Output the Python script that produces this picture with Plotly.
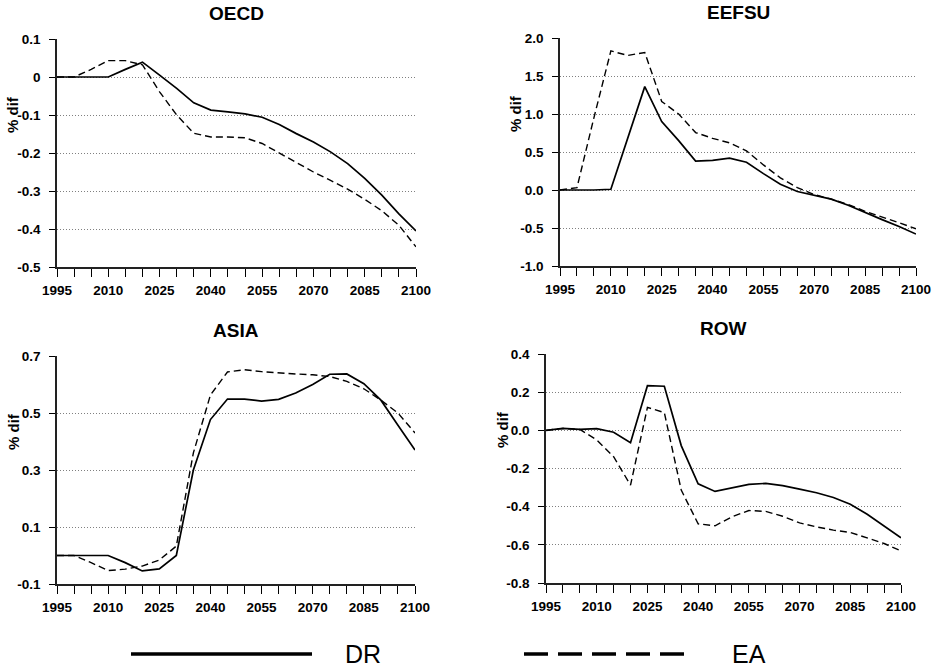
import plotly.graph_objects as go

years = list(range(1995, 2101, 5))

oecd_dr = [0, 0, 0, 0, 0.02, 0.039, 0.005, -0.03, -0.068, -0.087, -0.092, -0.097, -0.106, -0.125,
           -0.149, -0.171, -0.197, -0.228, -0.267, -0.311, -0.36, -0.405]
oecd_ea = [0, 0, 0.02, 0.043, 0.043, 0.032, -0.039, -0.1, -0.148, -0.158, -0.158, -0.16, -0.175, -0.2,
           -0.225, -0.25, -0.272, -0.295, -0.322, -0.352, -0.39, -0.447]

eefsu_dr = [0, 0, 0, 0.01, 0.68, 1.36, 0.9, 0.65, 0.38, 0.39, 0.42, 0.365, 0.215, 0.075,
            -0.02, -0.07, -0.12, -0.2, -0.3, -0.39, -0.48, -0.58]
eefsu_ea = [0, 0.03, 0.95, 1.83, 1.77, 1.81, 1.165, 1.0, 0.756, 0.68, 0.62, 0.515, 0.33, 0.16,
            0.03, -0.06, -0.12, -0.19, -0.28, -0.35, -0.43, -0.51]

asia_dr = [0, 0, 0, 0, -0.025, -0.054, -0.047, 0.0, 0.3, 0.477, 0.549, 0.549, 0.542, 0.548,
           0.57, 0.6, 0.636, 0.637, 0.603, 0.545, 0.457, 0.37]
asia_ea = [0, 0, -0.025, -0.053, -0.048, -0.037, -0.016, 0.033, 0.36, 0.563, 0.644, 0.652, 0.645,
           0.64, 0.637, 0.634, 0.628, 0.611, 0.585, 0.545, 0.5, 0.43]

row_dr = [0, 0.01, 0.005, 0.009, -0.01, -0.065, 0.234, 0.231, -0.08, -0.28, -0.32, -0.3, -0.283,
          -0.278, -0.29, -0.308, -0.327, -0.352, -0.387, -0.44, -0.502, -0.563]
row_ea = [0, 0.01, 0.005, -0.05, -0.138, -0.287, 0.12, 0.093, -0.313, -0.49, -0.5, -0.453, -0.42,
          -0.425, -0.45, -0.485, -0.506, -0.523, -0.535, -0.562, -0.593, -0.632]

regions = ["OECD", "EEFSU", "ASIA", "ROW"]
series_names = ["DR", "EA"]
y_title = "% dif"

x_tickvals = list(range(1995, 2101, 5))
x_ticktext = [str(y) if (y - 1995) % 15 == 0 else "" for y in x_tickvals]

oecd_yticks = [0.1, 0, -0.1, -0.2, -0.3, -0.4, -0.5]
oecd_ylabels = ["0.1", "0", "-0.1", "-0.2", "-0.3", "-0.4", "-0.5"]
eefsu_yticks = [2.0, 1.5, 1.0, 0.5, 0.0, -0.5, -1.0]
eefsu_ylabels = ["2.0", "1.5", "1.0", "0.5", "0.0", "-0.5", "-1.0"]
asia_yticks = [0.7, 0.5, 0.3, 0.1, -0.1]
asia_ylabels = ["0.7", "0.5", "0.3", "0.1", "-0.1"]
row_yticks = [0.4, 0.2, 0.0, -0.2, -0.4, -0.6, -0.8]
row_ylabels = ["0.4", "0.2", "0.0", "-0.2", "-0.4", "-0.6", "-0.8"]

data = {
    "OECD": (oecd_dr, oecd_ea, oecd_yticks, oecd_ylabels),
    "EEFSU": (eefsu_dr, eefsu_ea, eefsu_yticks, eefsu_ylabels),
    "ASIA": (asia_dr, asia_ea, asia_yticks, asia_ylabels),
    "ROW": (row_dr, row_ea, row_yticks, row_ylabels),
}

W, H = 936, 670
# pixel boxes (left, right, top, bottom)
boxes = {
    "OECD": (57, 416, 39, 267),
    "EEFSU": (560, 916, 38, 266),
    "ASIA": (57, 415, 356, 584),
    "ROW": (546, 901, 354, 583),
}

FONT = "Liberation Sans, Arial, sans-serif"
fig = go.Figure()
layout = dict(
    width=W, height=H, margin=dict(l=0, r=0, t=0, b=0, autoexpand=False),
    paper_bgcolor="white", plot_bgcolor="white",
    showlegend=False, font=dict(family=FONT, color="black"),
)
annotations = []
shapes = []

for i, reg in enumerate(regions):
    dr, ea, yt, yl = data[reg]
    xa = "x" if i == 0 else f"x{i+1}"
    ya = "y" if i == 0 else f"y{i+1}"
    fig.add_trace(go.Scatter(x=years, y=dr, mode="lines", name="DR", xaxis=xa, yaxis=ya,
                             line=dict(color="black", width=1.7, dash="solid")))
    fig.add_trace(go.Scatter(x=years, y=ea, mode="lines", name="EA", xaxis=xa, yaxis=ya,
                             line=dict(color="black", width=1.4, dash="7px,4px")))
    l, r, t, b = boxes[reg]
    xkey = "xaxis" if i == 0 else f"xaxis{i+1}"
    ykey = "yaxis" if i == 0 else f"yaxis{i+1}"
    layout[xkey] = dict(
        domain=[l / W, r / W], anchor=ya, range=[1995, 2100], automargin=False,
        tickmode="array", tickvals=x_tickvals, ticktext=x_ticktext,
        ticks="outside", ticklen=8, tickwidth=1.2, tickcolor="black", ticklabelstandoff=2,
        showline=True, linecolor="#222222", linewidth=1.5, showgrid=False, zeroline=False,
        tickfont=dict(family=FONT, size=13.5, color="black", weight="bold"),
    )
    layout[ykey] = dict(
        domain=[1 - b / H, 1 - t / H], anchor=xa, range=[min(yt), max(yt)], automargin=False,
        tickmode="array", tickvals=yt, ticktext=yl,
        ticks="outside", ticklen=6, tickwidth=1.2, tickcolor="black", ticklabelstandoff=6,
        showline=True, linecolor="#222222", linewidth=1.5,
        showgrid=True, gridcolor="#808080", gridwidth=1, griddash="1px,2px", zeroline=False,
        tickfont=dict(family=FONT, size=13.5, color="black", weight="bold"),
    )
    annotations.append(dict(
        text=f"<b>{reg}</b>", xref="paper", yref="paper",
        x=(l + r) / 2 / W, y=1 - t / H, yshift=13, xanchor="center", yanchor="bottom",
        showarrow=False, font=dict(family=FONT, size=19, color="black"),
    ))
    annotations.append(dict(
        text=f"<b>{y_title}</b>", xref="paper", yref="paper",
        x=(l - 44) / W, y=1 - (t + 76) / H, xanchor="center", yanchor="middle",
        textangle=-90, showarrow=False, font=dict(family=FONT, size=15, color="black"),
    ))

# legend drawn as decoration
leg_y = 1 - 654 / H
shapes.append(dict(type="line", xref="paper", yref="paper", x0=131 / W, x1=312 / W,
                   y0=leg_y, y1=leg_y, line=dict(color="black", width=3.5)))
shapes.append(dict(type="line", xref="paper", yref="paper", x0=524 / W, x1=685 / W,
                   y0=leg_y, y1=leg_y, line=dict(color="black", width=3.5, dash="24px,10px")))
annotations.append(dict(text=series_names[0], xref="paper", yref="paper", x=343 / W, y=leg_y,
                        xanchor="left", yanchor="middle", showarrow=False,
                        font=dict(family="Liberation Sans Narrow, Liberation Sans, Arial", size=25,
                                  color="black")))
annotations.append(dict(text=series_names[1], xref="paper", yref="paper", x=730 / W, y=leg_y,
                        xanchor="left", yanchor="middle", showarrow=False,
                        font=dict(family="Liberation Sans Narrow, Liberation Sans, Arial", size=25,
                                  color="black")))

layout["annotations"] = annotations
layout["shapes"] = shapes
fig.update_layout(**layout)
fig.write_html("out.html", config={"displayModeBar": False},
               post_script="document.body.style.margin='0';document.body.style.overflow='hidden';")
